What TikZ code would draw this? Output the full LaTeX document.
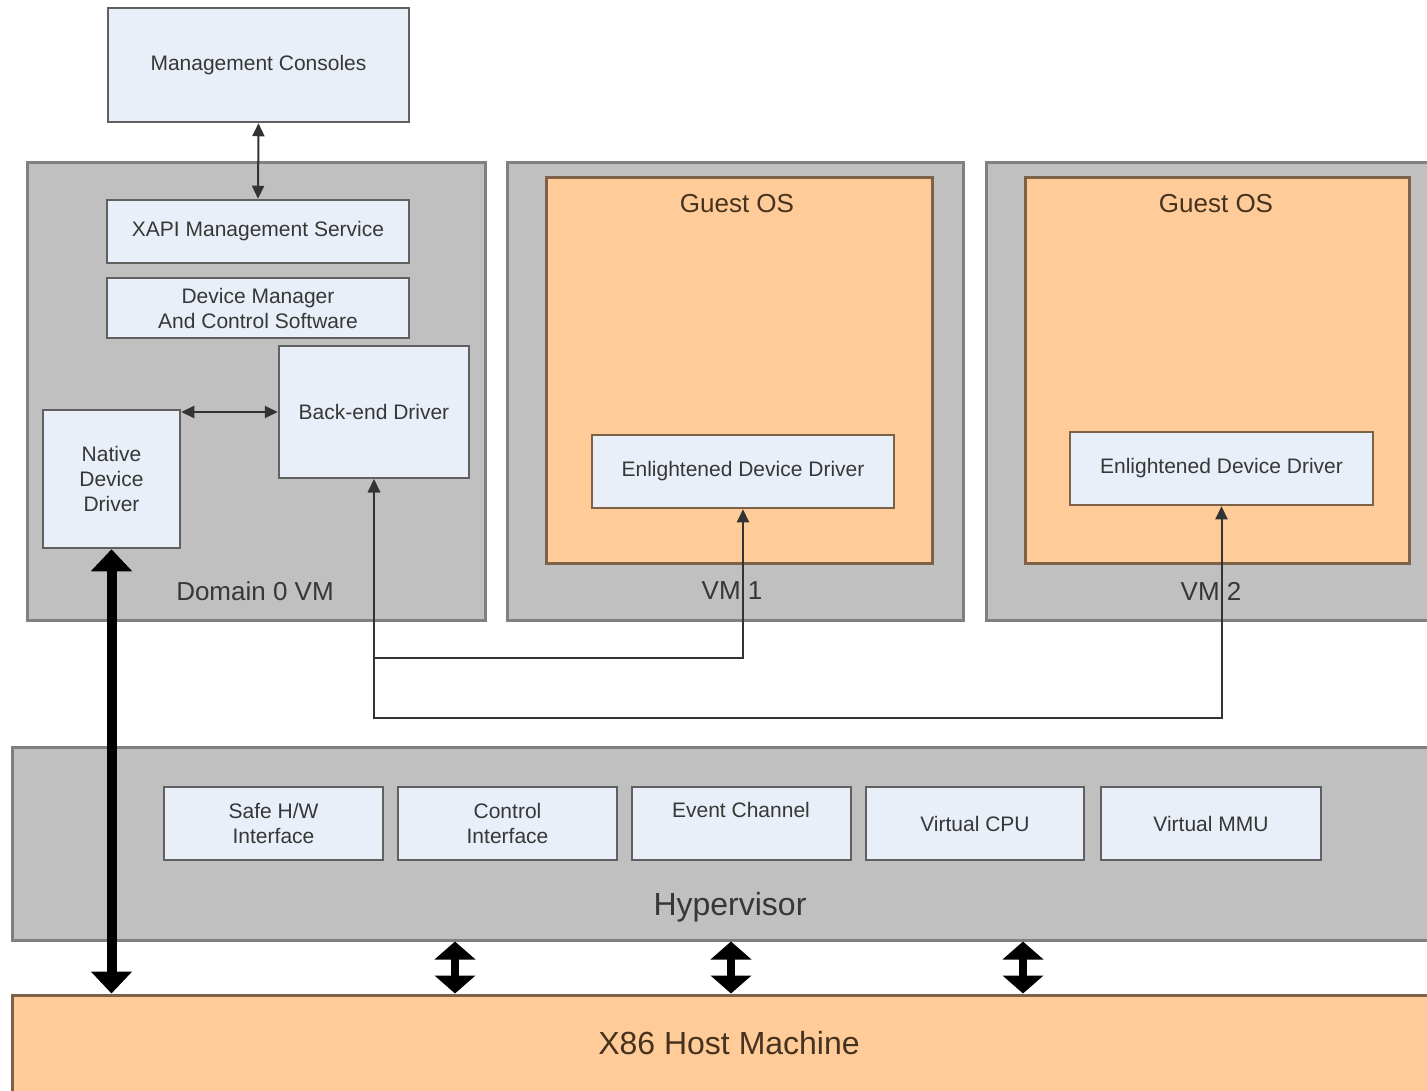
\documentclass[tikz,border=0pt]{standalone}
\usepackage{fontspec}
\setmainfont{Liberation Sans}
\usetikzlibrary{arrows.meta,fit}
\definecolor{grayfill}{RGB}{192,192,192}
\definecolor{grayline}{RGB}{128,128,128}
\definecolor{bluefill}{RGB}{233,239,248}
\definecolor{boxline}{RGB}{96,96,96}
\definecolor{orangefill}{RGB}{255,204,153}
\definecolor{orangeline}{RGB}{125,98,72}
\definecolor{txt}{RGB}{55,55,55}
\definecolor{brtxt}{RGB}{70,50,30}
\begin{document}
\begin{tikzpicture}[x=1pt,y=-1pt,
 region/.style={draw=grayline, fill=grayfill, line width=3pt, inner sep=0pt},
 lbox/.style={draw=boxline, fill=bluefill, line width=2.5pt, inner sep=0pt,
   font=\fontsize{21}{25}\selectfont, text=txt, align=center},
 boxsize/.style args={#1x#2}{minimum width=#1pt, minimum height=#2pt},
 obox/.style={draw=orangeline, fill=orangefill, line width=3pt, inner sep=0pt},
 midlbl/.style={font=\fontsize{26}{30}\selectfont, text=txt, inner sep=0pt},
 bigtxt/.style={font=\fontsize{32}{36}\selectfont, inner sep=0pt},
 smalltxt/.style={font=\fontsize{21}{25}\selectfont, text=txt, inner sep=0pt},
 thinarrow/.style={draw=black!80, line width=2pt,
   {Triangle[length=13pt,width=12pt]}-{Triangle[length=13pt,width=12pt]}},
 bigarrow/.style={draw=black, line width=10pt,
   {Triangle[length=22pt,width=40pt]}-{Triangle[length=22pt,width=40pt]}},
 hwarrow/.style={draw=black, line width=8pt,
   {Triangle[length=18pt,width=40pt]}-{Triangle[length=18pt,width=40pt]}}
]
\clip (0,0) rectangle (1427,1091);
\fill[white] (0,0) rectangle (1427,1091);

% Management consoles
\node[lbox, boxsize=301x114] (mc) at (258.5,65) {Management Consoles};

% Domain 0 VM
\node[region, fit={(27,163) (485,620)}] (dom0) {};
\node[midlbl] (dom0lbl) at (255,591) {Domain 0 VM};
\node[lbox, boxsize=302x63] (xapi) at (258,231.5) {XAPI Management Service};
\node[lbox, boxsize=302x60] (devmgr) at (258,308) {Device Manager\\And Control Software};
\node[lbox, boxsize=190x132] (bed) at (374,412) {Back-end Driver};
\node[lbox, boxsize=137x138] (native) at (111.5,479) {Native\\Device\\Driver};

% VM 1
\node[region, fit={(507,163) (963,620)}] (vm1) {};
\node[obox, fit={(546,178) (932,563)}] (gos1) {};
\node[midlbl, text=brtxt] (gos1lbl) at (737,204) {Guest OS};
\node[lbox, draw=orangeline, boxsize=302x73] (edd1) at (743,471.5) {Enlightened Device Driver};
\node[midlbl] (vm1lbl) at (732,591) {VM 1};

% VM 2
\node[region, fit={(986,163) (1440,620)}] (vm2) {};
\node[obox, fit={(1025,178) (1409,563)}] (gos2) {};
\node[midlbl, text=brtxt] (gos2lbl) at (1216,204) {Guest OS};
\node[lbox, draw=orangeline, boxsize=303x73] (edd2) at (1221.5,468.5) {Enlightened Device Driver};
\node[midlbl] (vm2lbl) at (1211,591) {VM 2};

% Hypervisor
\node[region, fit={(12,747) (1440,940)}] (hyp) {};
\node[bigtxt, text=txt] (hyplbl) at (730,907) {Hypervisor};
\node[lbox, boxsize=219x73] (safehw) at (273.5,823.5) {Safe H/W\\Interface};
\node[lbox, boxsize=219x73] (ctrl) at (507.5,823.5) {Control\\Interface};
\node[lbox, boxsize=219x73] (evch) at (741.5,823.5) {};
\node[smalltxt] (evchlbl) at (741,810) {Event Channel};
\node[lbox, boxsize=218x73] (vcpu) at (975,823.5) {Virtual CPU};
\node[lbox, boxsize=220x73] (vmmu) at (1211,823.5) {Virtual MMU};

% Host machine
\node[obox, fit={(12,995) (1440,1100)}] (host) {};
\node[bigtxt, text=brtxt] (hostlbl) at (729,1043) {X86 Host Machine};

% Connectors
\draw[thinarrow] (mc.south) -- (xapi.north);
\draw[thinarrow] (native.east |- bed.west) -- (bed.west);
\draw[thinarrow] (bed.south) |- (edd1.south |- 0,658) -- (edd1.south);
\draw[thinarrow] (bed.south) |- (edd2.south |- 0,718) -- (edd2.south);
\draw[bigarrow] (native.south) -- (native.south |- host.north);
\draw[hwarrow] (hyp.south -| 455,0) -- (host.north -| 455,0);
\draw[hwarrow] (hyp.south -| 731,0) -- (host.north -| 731,0);
\draw[hwarrow] (hyp.south -| 1023,0) -- (host.north -| 1023,0);
\end{tikzpicture}
\end{document}
